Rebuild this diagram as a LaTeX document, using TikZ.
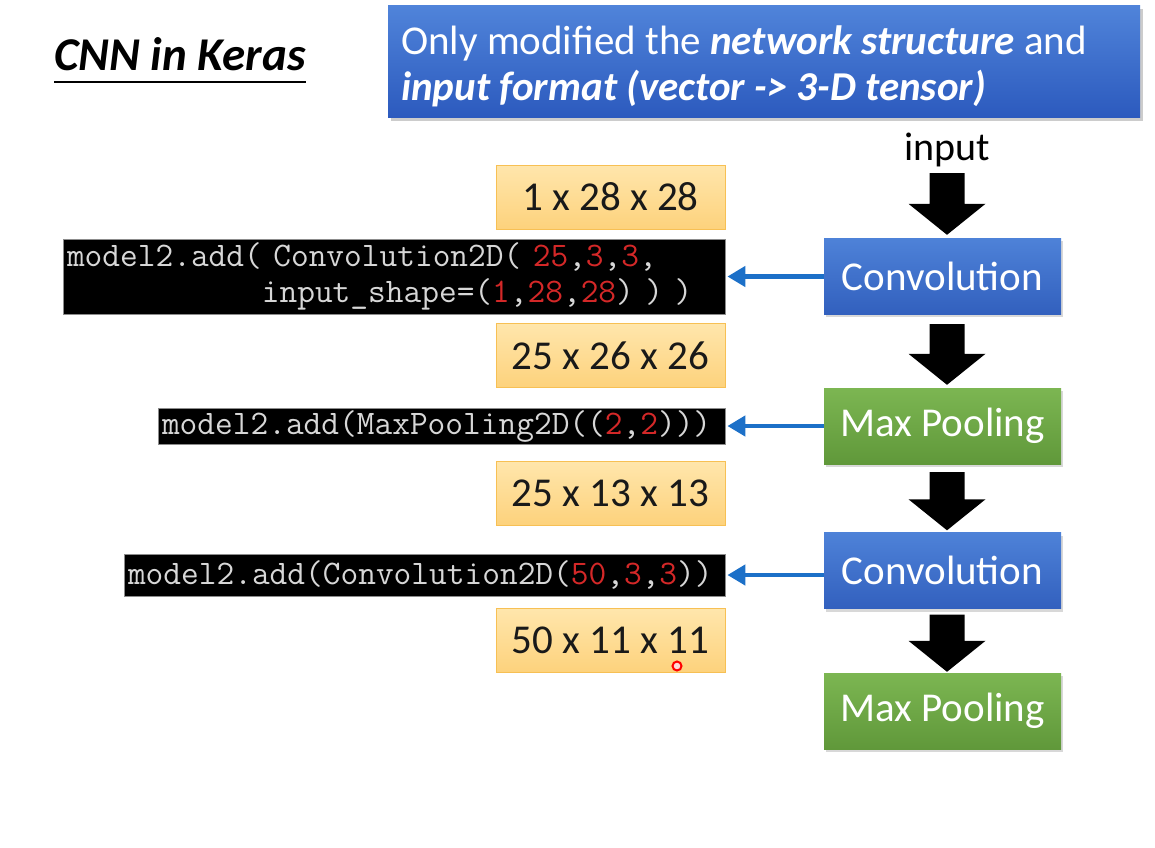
\documentclass[tikz,border=0pt]{standalone}
\usepackage{fontspec}
\setmainfont{Carlito}
\usetikzlibrary{calc,arrows.meta,shadows}
\definecolor{convtop}{RGB}{78,130,216}
\definecolor{convbot}{RGB}{50,96,190}
\definecolor{pooltop}{RGB}{124,182,82}
\definecolor{poolbot}{RGB}{96,152,58}
\definecolor{bantop}{RGB}{80,132,218}
\definecolor{banbot}{RGB}{44,90,190}
\definecolor{dimtop}{RGB}{255,230,172}
\definecolor{dimbot}{RGB}{253,210,124}
\definecolor{dimborder}{RGB}{247,192,84}
\definecolor{codegray}{RGB}{215,215,215}
\definecolor{codered}{RGB}{212,40,40}
\definecolor{arrblue}{RGB}{28,112,200}
\newcommand\rd[1]{\textcolor{codered}{#1}}
\newcommand\blockarrow[2]{\fill[black] let \p1=#1, \p2=#2 in (\x1-17.5pt,\y1) -- (\x1+17.5pt,\y1) -- (\x1+17.5pt,\y2+31pt) -- (\x1+38.5pt,\y2+31pt) -- (\x1,\y2) -- (\x1-38.5pt,\y2+31pt) -- (\x1-17.5pt,\y2+31pt) -- cycle;}
\begin{document}
\begin{tikzpicture}[x=1pt,y=-1pt,
  layer/.style={minimum width=237pt, minimum height=76pt, inner sep=0pt, text=white,
    font=\fontsize{41}{48}\selectfont,
    drop shadow={opacity=0.3, shadow xshift=2pt, shadow yshift=-3pt}},
  convbox/.style={layer, top color=convtop, bottom color=convbot},
  poolbox/.style={layer, top color=pooltop, bottom color=poolbot},
  dimbox/.style={minimum width=229pt, minimum height=64pt, inner sep=0pt, draw=dimborder,
    line width=1pt, top color=dimtop, bottom color=dimbot,
    font=\fontsize{41}{48}\selectfont, text=black!90},
  codebox/.style={fill=black, draw=black!45, line width=0.8pt, inner xsep=4pt, inner ysep=0pt,
    align=left, text=codegray, font=\ttfamily\fontsize{34.4}{36}\selectfont},
  bluearr/.style={draw=arrblue, line width=4.5pt, -{Triangle[width=20pt,length=18pt]}}]
\useasboundingbox (0,0) rectangle (1155,847);
\fill[white] (0,0) rectangle (1155,847);

% title
\node[anchor=base west, inner sep=0pt, font=\bfseries\itshape\fontsize{47}{54}\selectfont] (title) at (54,70) {CNN in Keras};
\draw[line width=2pt] ($(title.base west)+(0,12)$) -- ($(title.base east)+(0,12)$);

% banner
\node[minimum width=752pt, minimum height=112pt, inner sep=0pt, top color=bantop, bottom color=banbot,
  drop shadow={opacity=0.4, shadow xshift=3pt, shadow yshift=-4pt}] (banner) at (764,61) {};
\node[anchor=west, align=left, text=white, inner sep=0pt, font=\fontsize{41}{46}\selectfont] (bantext) at (401,66)
  {Only modified the \textbf{\textit{network structure}} and\\\textbf{\textit{input format (vector -> 3-D tensor)}}};

% right column
\node[anchor=base, inner sep=0pt, font=\fontsize{40}{46}\selectfont] (input) at (947,160) {input};
\node[convbox] (conv1) at (942.5,276) {Convolution};
\node[poolbox] (pool1) at (942.5,426) {Max Pooling};
\node[convbox] (conv2) at (942.5,570.5) {Convolution};
\node[poolbox] (pool2) at (942.5,711) {Max Pooling};

\blockarrow{($(input.base)+(0,13)$)}{($(input.base |- conv1.north)+(0,-3)$)}
\blockarrow{($(input.base |- conv1.south)+(0,10)$)}{($(input.base |- pool1.north)+(0,-3)$)}
\blockarrow{($(input.base |- pool1.south)+(0,8)$)}{($(input.base |- conv2.north)+(0,-2)$)}
\blockarrow{($(input.base |- conv2.south)+(0,6)$)}{($(input.base |- pool2.north)+(0,-1)$)}

% dimension boxes
\node[dimbox] (d1) at (610.5,197) {1 x 28 x 28};
\node[dimbox] (d2) at (610.5,355.5) {25 x 26 x 26};
\node[dimbox] (d3) at (610.5,493) {25 x 13 x 13};
\node[dimbox] (d4) at (610.5,640.5) {50 x 11 x 11};

% code boxes
\node[codebox, text width=654pt, minimum height=75pt] (code1) at (394,276.5)
  {model2.add( Convolution2D( \rd{25},\rd{3},\rd{3},\\\phantom{xxxxxxxxxxx}input\_shape=(\rd{1},\rd{28},\rd{28}) ) )};
\node[codebox, text width=559pt, minimum height=36pt] (code2) at (441.5,426)
  {model2.add(MaxPooling2D((\rd{2},\rd{2})))};
\node[codebox, text width=593pt, minimum height=42pt] (code3) at (424.5,575)
  {model2.add(Convolution2D(\rd{50},\rd{3},\rd{3}))};

% blue arrows
\draw[bluearr] (conv1.west |- code1.east) -- ($(code1.east)+(2,0)$);
\draw[bluearr] (pool1.west |- code2.east) -- ($(code2.east)+(2,0)$);
\draw[bluearr] (conv2.west |- code3.east) -- ($(code3.east)+(2,0)$);

% pointer dot
\node[circle, draw=red, fill=red!15, line width=2pt, minimum size=9pt, inner sep=0pt] (dot) at (677,666) {};
\end{tikzpicture}
\end{document}
